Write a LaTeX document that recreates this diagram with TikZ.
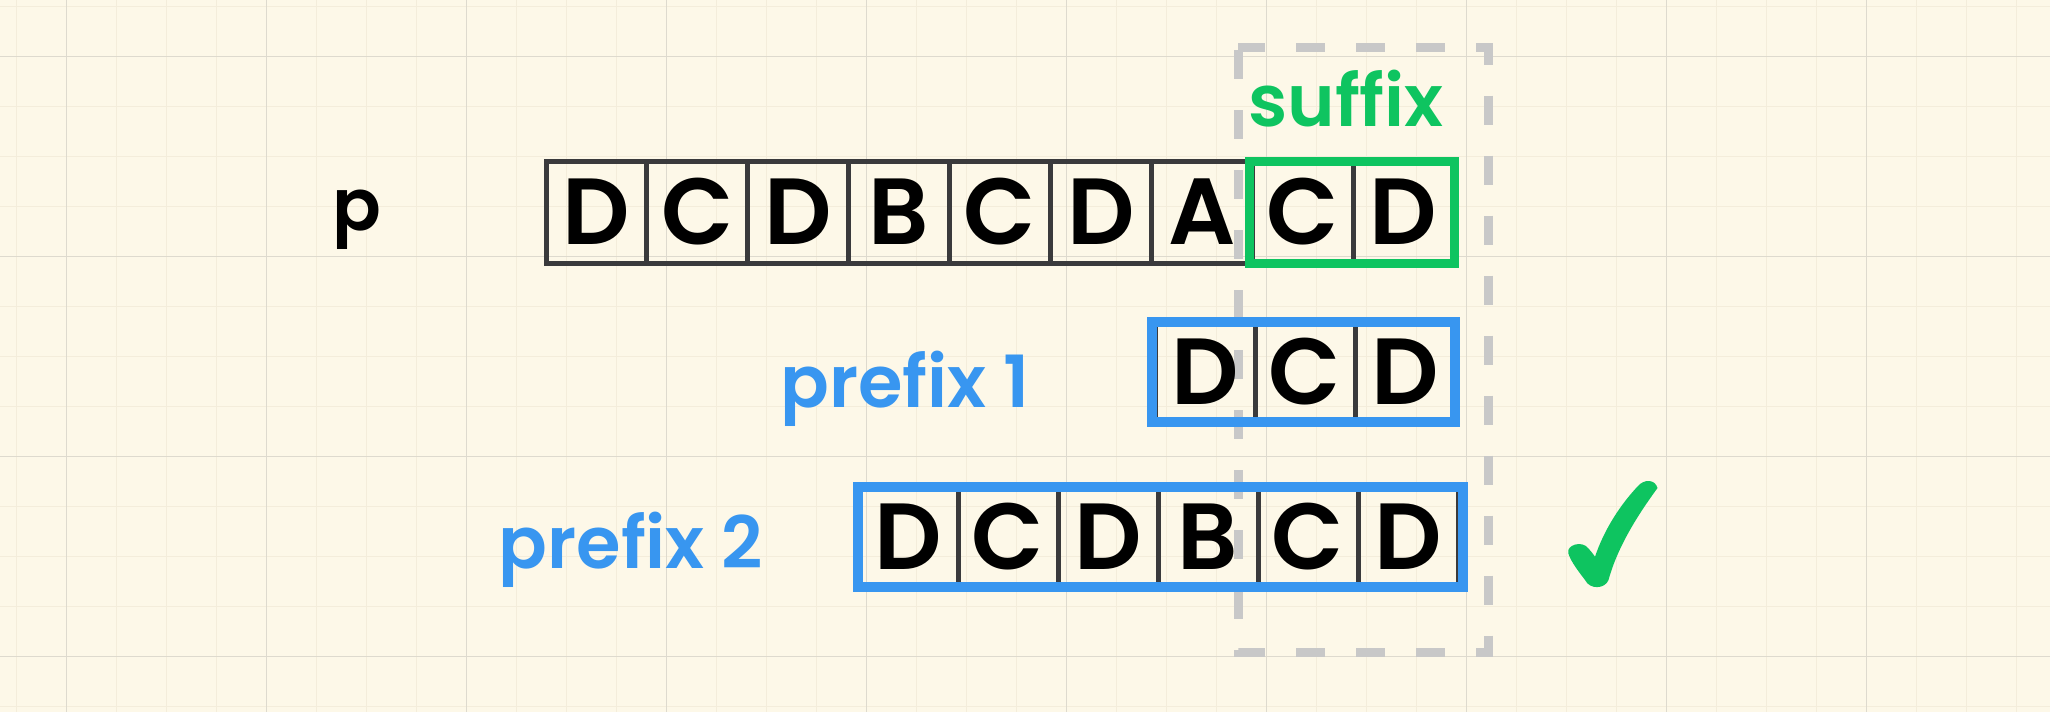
\documentclass[tikz,border=0pt]{standalone}
\usepackage{fontspec}
\setmainfont{Poppins SemiBold}
\definecolor{bg}{RGB}{253,248,232}
\definecolor{minorc}{RGB}{244,237,219}
\definecolor{majorc}{RGB}{222,218,206}
\definecolor{cellc}{RGB}{58,58,60}
\definecolor{sgreen}{RGB}{14,196,96}
\definecolor{pblue}{RGB}{56,150,240}
\definecolor{dashc}{RGB}{200,200,200}
\tikzset{
  minorline/.style={draw=minorc, line width=1.2pt},
  majorline/.style={draw=majorc, line width=1.5pt},
  cellbox/.style={draw=cellc, line width=5pt, minimum width=100.9pt, minimum height=102pt,
    inner sep=0pt, outer sep=0pt, font=\fontsize{94}{94}\selectfont, text=black},
  smallcell/.style={cellbox, minimum width=100pt, minimum height=100pt},
  lbl/.style={font=\fontsize{72}{72}\selectfont, anchor=base, inner sep=0pt},
  greenbox/.style={draw=sgreen, line width=9pt},
  bluebox/.style={draw=pblue, line width=9.5pt},
  dashbox/.style={draw=dashc, line width=9pt, dash pattern=on 29pt off 31pt, dash phase=2pt}
}
\begin{document}
\begin{tikzpicture}[x=1pt,y=-1pt]
\fill[bg] (0,0) rectangle (2050,712);
\useasboundingbox (0,0) rectangle (2050,712);
% grid
\foreach \i in {0,...,41} \draw[minorline] ({16.67+50*\i},0) -- ++(0,712);
\foreach \j in {0,...,14} \draw[minorline] (0,{6.67+50*\j}) -- ++(2050,0);
\foreach \i in {0,...,9} \draw[majorline] ({66.67+200*\i},0) -- ++(0,712);
\foreach \j in {0,...,3} \draw[majorline] (0,{56.67+200*\j}) -- ++(2050,0);
% dashed suffix window
\draw[dashbox] (1238,47.5) -- (1488,47.5) -- (1488,652) -- (1238,652) -- cycle;
% row p
\foreach \c [count=\i] in {D,C,D,B,C,D,A,C,D}
  \node[cellbox] (t\i) at ({495.55+100.9*\i},212) {\c};
% prefix 1
\foreach \c [count=\i] in {D,C,D}
  \node[smallcell] (a\i) at ({1105+100*\i},372) {\c};
% prefix 2
\foreach \c [count=\i] in {D,C,D,B,C,D}
  \node[smallcell] (b\i) at ({808+100*\i},537) {\c};
% highlight boxes
\draw[greenbox] ([xshift=-3pt]t8.north west) rectangle (t9.south east);
\draw[bluebox] ([xshift=-3pt]a1.north west) rectangle (a3.south east);
\draw[bluebox] (b1.north west) rectangle ([xshift=5pt]b6.south east);
% labels
\node[lbl] (plabel) at (357,230) {p};
\node[lbl, text=sgreen] (suffixlabel) at (1346,126) {suffix};
\node[lbl, text=pblue] (pre1) at (905,407) {prefix 1};
\node[lbl, text=pblue] (pre2) at (631,568) {prefix 2};
% check mark
\fill[sgreen] (1638,486) .. controls (1644,479) and (1655,479) .. (1657.5,488)
  .. controls (1640,512) and (1618,545) .. (1608.5,580)
  .. controls (1605,589) and (1590,590) .. (1585,580)
  .. controls (1579,572) and (1571,562) .. (1568.3,553.3)
  .. controls (1566,545) and (1582,540) .. (1588.3,548.3)
  .. controls (1591,551) and (1593,554) .. (1595,556.7)
  .. controls (1604,530) and (1620,505) .. (1638,486) -- cycle;
\end{tikzpicture}
\end{document}
